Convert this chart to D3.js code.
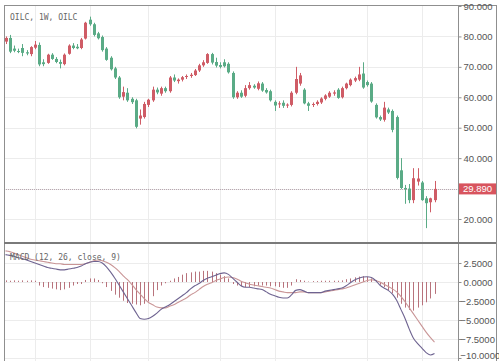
<!DOCTYPE html>
<html>
<head>
<meta charset="utf-8">
<script src="https://cdn.jsdelivr.net/npm/d3@7/dist/d3.min.js"></script>
<style>
  html, body { margin: 0; padding: 0; background: #fff; }
  svg { display: block; }
  .ax { font-family: "Liberation Sans", Arial, sans-serif; font-size: 9.5px; fill: #555; }
  .ttl { font-family: "DejaVu Sans Mono", monospace; font-size: 8px; fill: #666; }
</style>
</head>
<body>
<div class="chart"></div>
<script>
(function() {
  'use strict';

  const WIDTH = 499, HEIGHT = 361;

  // Weekly candles
  const OPEN  = [78.3,79.5,76.0,75.2,76.2,74.8,74.2,76.3,77.2,71.5,71.3,74.0,72.6,71.6,70.9,74.3,77.0,76.6,76.2,79.3,
                 85.5,84.0,81.0,79.8,76.0,73.0,69.5,66.5,60.2,61.5,59.5,59.0,53.0,53.5,57.5,59.0,62.5,61.2,63.0,62.0,
                 66.5,65.3,65.8,66.8,67.0,67.3,68.8,70.5,71.3,74.2,71.6,70.6,71.5,71.0,68.0,60.0,61.5,60.5,63.0,63.8,
                 62.8,64.5,62.4,62.0,58.5,57.8,58.2,57.3,57.5,61.5,64.5,62.5,58.0,57.5,57.8,58.3,59.5,60.2,61.2,62.5,
                 60.0,63.0,64.0,65.5,65.8,67.8,65.0,64.5,57.5,53.5,52.6,56.0,55.5,53.5,36.0,30.2,30.0,26.2,32.3,32.0,
                 26.8,25.5,26.2];
  const HIGH  = [80.0,80.5,77.0,76.0,77.5,75.5,76.8,78.5,78.0,72.5,74.3,74.5,73.2,72.4,74.4,77.4,77.8,77.5,79.5,84.8,
                 86.5,84.5,81.5,80.3,76.5,73.5,70.0,67.0,63.5,63.0,60.0,59.5,56.0,58.5,59.5,63.5,63.2,63.5,63.5,67.0,
                 67.5,66.2,67.0,67.5,68.0,69.3,71.0,72.2,74.5,74.6,73.0,71.5,72.5,71.5,68.5,62.0,62.3,64.0,65.0,64.3,
                 65.2,65.0,63.0,62.5,59.0,58.7,59.0,58.0,62.0,70.0,68.0,63.0,58.5,58.3,59.0,60.0,61.0,62.0,62.3,63.0,
                 63.5,64.8,66.2,66.8,70.0,71.5,65.5,65.0,58.0,54.0,58.5,56.6,56.0,54.0,40.0,31.2,31.5,36.7,36.7,32.5,
                 27.5,27.0,32.5];
  const LOW   = [77.5,74.5,74.8,74.5,73.5,73.8,73.5,75.8,70.2,70.2,71.0,72.3,71.2,69.5,70.5,74.0,75.8,75.8,75.8,79.0,
                 83.5,80.0,79.0,75.0,72.0,68.8,66.0,59.5,59.0,58.5,57.8,49.8,51.0,53.0,56.8,58.5,61.0,60.5,61.5,61.5,
                 65.0,64.5,65.2,66.0,66.4,67.0,68.3,70.0,71.0,70.8,69.8,69.5,69.8,67.8,59.5,59.5,59.8,60.0,62.5,62.8,
                 62.3,61.8,61.2,58.6,55.5,56.5,56.5,56.5,57.0,61.0,63.8,57.7,55.5,56.8,57.3,57.8,59.0,59.8,60.5,59.5,
                 59.6,62.6,63.6,65.0,65.3,62.8,63.5,58.2,53.0,52.2,52.0,54.5,48.5,33.0,29.8,25.0,25.2,25.2,31.0,26.0,
                 17.0,22.2,25.5];
  const CLOSE = [79.5,75.0,75.3,75.0,74.6,74.4,76.5,77.3,70.8,70.9,74.0,72.6,71.6,71.0,74.0,77.0,76.2,76.1,79.0,84.5,
                 84.0,80.5,79.4,75.5,72.3,69.2,66.5,60.0,61.7,59.0,58.4,50.3,54.0,57.8,59.2,62.5,61.6,63.0,62.0,66.5,
                 65.5,65.8,66.6,67.0,67.4,68.8,70.5,71.5,74.2,71.4,70.4,70.0,70.2,68.2,60.0,61.5,60.2,63.0,64.0,63.2,
                 64.6,62.2,61.6,59.0,57.3,58.0,57.2,57.6,61.5,66.0,67.2,58.0,57.2,57.8,58.5,59.6,60.6,61.5,61.6,59.8,
                 63.0,64.5,65.8,66.3,67.5,63.2,64.0,58.6,53.4,52.7,56.6,55.0,49.3,33.5,30.2,29.9,26.2,33.4,33.3,26.2,
                 25.2,26.8,29.89];

  // MACD (12, 26, close, 9)
  const MACD   = [3.6,3.5,3.4,3.2,3.1,2.9,2.7,2.5,2.3,2.1,1.9,1.8,1.7,1.6,1.6,1.7,1.8,1.9,2.1,2.4,
                  2.6,2.7,2.7,2.5,2.0,1.3,0.5,-0.4,-1.3,-2.2,-3.1,-4.0,-4.8,-4.9,-4.8,-4.5,-4.1,-3.6,-3.3,-3.0,
                  -2.6,-2.2,-1.8,-1.4,-0.9,-0.5,-0.2,0.2,0.5,0.7,0.9,1.1,1.2,1.0,0.5,0.0,-0.5,-0.7,-0.7,-0.8,
                  -0.9,-1.0,-1.3,-1.6,-1.8,-2.0,-2.1,-2.1,-1.7,-1.1,-1.0,-1.2,-1.4,-1.4,-1.4,-1.4,-1.2,-1.1,-1.0,-0.9,
                  -0.8,-0.5,-0.1,0.25,0.5,0.65,0.7,0.6,0.2,-0.4,-0.8,-1.1,-1.6,-2.4,-3.6,-4.8,-6.2,-7.4,-8.1,-8.7,
                  -9.3,-9.6,-9.4];
  const SIGNAL = [4.1,4.0,3.8,3.6,3.4,3.2,3.0,2.9,2.8,2.7,2.6,2.5,2.4,2.4,2.3,2.3,2.3,2.3,2.3,2.4,
                  2.6,2.8,2.9,2.8,2.6,2.3,1.9,1.4,0.8,0.3,-0.3,-1.0,-1.6,-2.2,-2.7,-3.0,-3.3,-3.4,-3.4,-3.2,
                  -3.0,-2.7,-2.4,-2.1,-1.7,-1.4,-1.0,-0.6,-0.3,-0.1,0.2,0.4,0.6,0.65,0.6,0.4,0.1,-0.1,-0.3,-0.4,
                  -0.5,-0.6,-0.7,-0.8,-1.0,-1.2,-1.3,-1.4,-1.4,-1.4,-1.3,-1.3,-1.4,-1.4,-1.4,-1.4,-1.3,-1.2,-1.1,-1.0,
                  -0.9,-0.8,-0.6,-0.4,-0.2,0.0,0.2,0.3,0.2,0.0,-0.3,-0.6,-0.9,-1.3,-1.9,-2.6,-3.4,-4.2,-5.0,-5.8,
                  -6.6,-7.3,-7.9];
  const HIST   = [0.15,0.1,0.15,0.1,0.15,0.1,0.15,0.1,-0.4,-0.6,-0.7,-0.8,-0.9,-1.0,-0.9,-0.7,-0.4,-0.2,-0.2,0.2,
                  0.4,0.4,0.2,-0.1,-0.6,-1.1,-1.6,-2.0,-2.4,-2.7,-2.8,-2.9,-3.0,-2.8,-2.5,-1.8,-1.0,-0.4,-0.1,0.1,
                  0.4,0.6,0.9,1.1,1.2,1.3,1.3,1.4,1.4,1.3,1.1,0.9,0.7,0.4,-0.2,-0.4,-0.5,-0.6,-0.6,-0.5,
                  -0.4,-0.4,-0.4,-0.5,-0.5,-0.6,-0.7,-0.7,-0.4,0.3,0.2,0.1,0.0,0.05,0.05,0.1,0.1,0.1,0.1,0.1,
                  0.15,0.3,0.4,0.55,0.65,0.7,0.6,0.4,0.2,-0.3,-0.6,-1.0,-1.4,-2.0,-2.8,-3.3,-3.6,-3.7,-3.3,-3.0,
                  -2.6,-2.1,-1.5];

  const PRICE_TICKS = [90, 80, 70, 60, 50, 40, 20];
  const PRICE_GRID = [80, 70, 60, 50, 40, 30, 20];
  const MACD_TICKS = [2.5, 0, -2.5, -5, -7.5, -10];
  const TIME_GRID = [7, 20, 34, 51, 64, 86, 99];   // candle index of vertical grid lines
  const TITLE = 'OILC, 1W, OILC';
  const MACD_TITLE = 'MACD (12, 26, close, 9)';
  const LAST = 29.89;

  const UP = '#cf5c66', DOWN = '#5aab86';

  // Layout
  const L = 4, R = 458, EDGE = 496, TOP = 5, SPLIT = 243;

  const svg = d3.select('.chart').append('svg')
    .attr('width', WIDTH).attr('height', HEIGHT);

  const x = d3.scaleLinear().domain([0, CLOSE.length - 1]).range([5.5, 434.5]);
  const y = d3.scaleLinear().domain([20, 90]).range([219, 6]);
  const ym = d3.scaleLinear().domain([-10, 2.5]).range([358, 263]);

  // Grid
  const grid = svg.append('g').attr('stroke', '#ececec').attr('stroke-width', 1);
  TIME_GRID.forEach(function(t) {
    const gx = Math.round(x(t)) + 0.5;
    grid.append('line').attr('x1', gx).attr('x2', gx).attr('y1', TOP).attr('y2', HEIGHT);
  });
  PRICE_GRID.forEach(function(v) {
    const gy = Math.round(y(v)) + 0.5;
    grid.append('line').attr('x1', L).attr('x2', R).attr('y1', gy).attr('y2', gy);
  });
  MACD_TICKS.forEach(function(v) {
    const gy = Math.round(ym(v)) + 0.5;
    grid.append('line').attr('x1', L).attr('x2', R).attr('y1', gy).attr('y2', gy);
  });

  // Last price dotted line
  svg.append('line')
    .attr('x1', L).attr('x2', R)
    .attr('y1', Math.round(y(LAST)) + 0.5).attr('y2', Math.round(y(LAST)) + 0.5)
    .attr('stroke', '#b9a7b0').attr('stroke-width', 1.2).attr('stroke-dasharray', '1,1');

  // Candles
  const idx = d3.range(CLOSE.length);
  const candles = svg.append('g');
  candles.selectAll('line').data(idx).enter().append('line')
    .attr('x1', i => Math.round(x(i)) + 0.5).attr('x2', i => Math.round(x(i)) + 0.5)
    .attr('y1', i => y(HIGH[i])).attr('y2', i => y(LOW[i]))
    .attr('stroke', i => CLOSE[i] >= OPEN[i] ? UP : DOWN).attr('stroke-width', 1);
  candles.selectAll('rect').data(idx).enter().append('rect')
    .attr('x', i => Math.round(x(i)) - 1)
    .attr('width', 3)
    .attr('y', i => y(Math.max(OPEN[i], CLOSE[i])))
    .attr('height', i => Math.max(1, Math.abs(y(OPEN[i]) - y(CLOSE[i]))))
    .attr('fill', i => CLOSE[i] >= OPEN[i] ? UP : DOWN);

  // MACD histogram
  svg.append('g').selectAll('line').data(idx).enter().append('line')
    .attr('x1', i => Math.round(x(i)) + 0.5).attr('x2', i => Math.round(x(i)) + 0.5)
    .attr('y1', ym(0)).attr('y2', i => ym(HIST[i]) + (HIST[i] >= 0 ? -0.5 : 0.5))
    .attr('stroke', '#b8737c').attr('stroke-width', 1);

  const line = d3.line().x((d, i) => x(i)).y(d => ym(d)).curve(d3.curveMonotoneX);
  svg.append('path').attr('d', line(SIGNAL))
    .attr('fill', 'none').attr('stroke', '#c99596').attr('stroke-width', 1.1);
  svg.append('path').attr('d', line(MACD))
    .attr('fill', 'none').attr('stroke', '#6e6390').attr('stroke-width', 1.1);

  // Frame
  const frame = svg.append('g').attr('stroke', '#8f8f8f');
  frame.append('line').attr('x1', L + 0.5).attr('x2', L + 0.5).attr('y1', TOP).attr('y2', HEIGHT);
  frame.append('line').attr('x1', L).attr('x2', EDGE).attr('y1', TOP + 0.5).attr('y2', TOP + 0.5);
  frame.append('line').attr('x1', EDGE + 0.5).attr('x2', EDGE + 0.5).attr('y1', TOP).attr('y2', HEIGHT);
  frame.append('line').attr('x1', R + 0.5).attr('x2', R + 0.5).attr('y1', TOP).attr('y2', HEIGHT);
  frame.append('line').attr('x1', L).attr('x2', EDGE).attr('y1', SPLIT).attr('y2', SPLIT)
    .attr('stroke', '#7a7a7a').attr('stroke-width', 2);

  // Right axes
  const yAxis = d3.axisRight(y).tickValues(PRICE_TICKS).tickSize(3).tickPadding(2)
    .tickFormat(d3.format('.3f'));
  const ga = svg.append('g').attr('transform', 'translate(' + (R + 0.5) + ',0)').call(yAxis);
  const mAxis = d3.axisRight(ym).tickValues(MACD_TICKS).tickSize(3).tickPadding(2)
    .tickFormat(d3.format('.4f'));
  const gm = svg.append('g').attr('transform', 'translate(' + (R + 0.5) + ',0)').call(mAxis);
  [ga, gm].forEach(function(g) {
    g.select('.domain').remove();
    g.selectAll('.tick line').attr('stroke', '#8f8f8f');
    g.selectAll('.tick text').attr('class', 'ax').attr('fill', null);
  });
  // digits line up; the minus sign hangs over the tick mark
  gm.selectAll('.tick text').filter(d => d < 0).attr('dx', '-0.333em');
  gm.selectAll('.tick text').filter(d => d === -10).attr('dy', '0em');

  // Last price label
  const ly = y(LAST);
  svg.append('rect').attr('x', R + 1).attr('y', ly - 5.5).attr('width', 37).attr('height', 11)
    .attr('fill', '#d8545e');
  svg.append('text').attr('class', 'ax').attr('x', R + 5).attr('y', ly + 3.5)
    .style('fill', '#fff').text(d3.format('.3f')(LAST));

  // Titles
  svg.append('text').attr('class', 'ttl').attr('x', 10).attr('y', 20).text(TITLE);
  svg.append('text').attr('class', 'ttl').attr('x', 10).attr('y', 260).text(MACD_TITLE);
})();
</script>
</body>
</html>
